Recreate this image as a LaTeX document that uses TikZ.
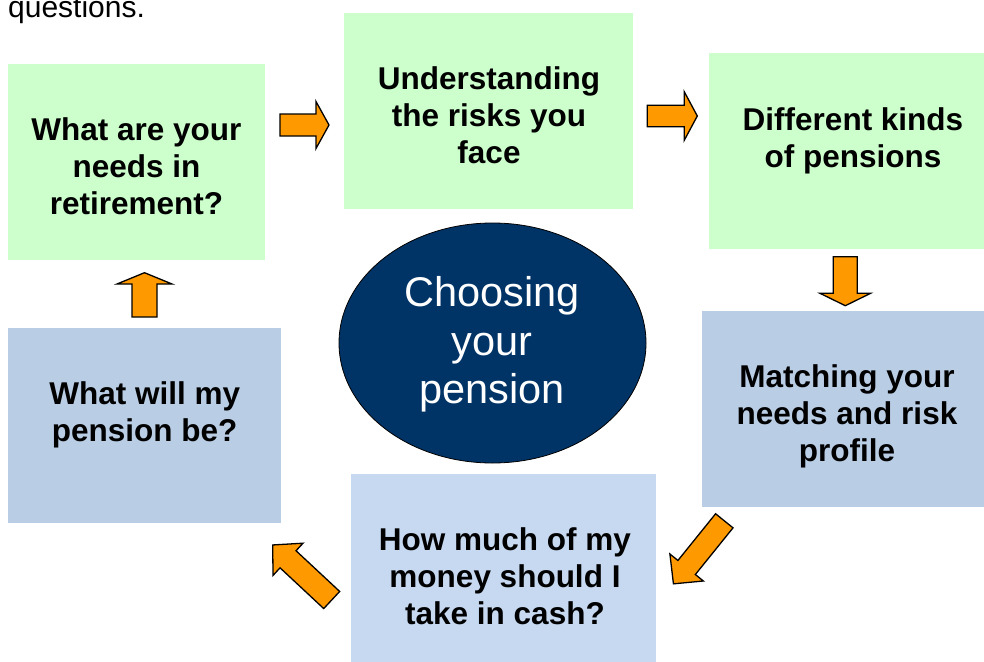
\documentclass[tikz,border=0pt]{standalone}
\usepackage{fontspec}
\setmainfont{Liberation Sans}
\usetikzlibrary{shapes.geometric}
\definecolor{boxgreen}{HTML}{CCFFCC}
\definecolor{boxblue}{HTML}{B9CDE5}
\definecolor{boxpale}{HTML}{C6D9F1}
\definecolor{navy}{HTML}{003366}
\definecolor{arroworange}{HTML}{FF9900}
\begin{document}
\begin{tikzpicture}[x=1pt,y=1pt,line join=miter]
	\tikzset{stage/.style={rectangle,inner sep=0pt,draw=none},
		stage text/.style={align=center,inner sep=0pt,font=\bfseries\fontsize{31.5}{37}\selectfont},
		fat arrow/.style={fill=arroworange,draw=black,line width=1.3pt}}
	\useasboundingbox (0,0) rectangle (984,-661);
	\node[anchor=base west,inner sep=0pt,font=\fontsize{30}{34}\selectfont] (intro) at (8,-17.5) {questions.};
	% the six steps
	\node[stage,fill=boxgreen,minimum width=257,minimum height=196] (needs) at (136.5,-162) {};
	\node[stage,fill=boxgreen,minimum width=289,minimum height=196] (risks) at (488.5,-111) {};
	\node[stage,fill=boxgreen,minimum width=275,minimum height=196] (kinds) at (846.5,-151) {};
	\node[stage,fill=boxblue,minimum width=282,minimum height=196] (matching) at (843,-409) {};
	\node[stage,fill=boxpale,minimum width=305,minimum height=188] (cash) at (503.5,-568) {};
	\node[stage,fill=boxblue,minimum width=273,minimum height=195] (amount) at (144.5,-425.5) {};
	\node[stage text] (needstext) at (136.4,-166.5) {What are your\\needs in\\retirement?};
	\node[stage text] (riskstext) at (489,-115.2) {Understanding\\the risks you\\face};
	\node[stage text] (kindstext) at (853,-140.5) {Different kinds\\of pensions};
	\node[stage text] (matchingtext) at (847,-416.5) {Matching your\\needs and risk\\profile};
	\node[stage text] (cashtext) at (505,-576.5) {How much of my\\money should I\\take in cash?};
	\node[stage text] (amounttext) at (144.7,-415) {What will my\\pension be?};
	% centre
	\node[ellipse,draw=black,line width=0.8pt,fill=navy,minimum width=307,minimum height=240,inner sep=0pt] (choosing) at (492.5,-343) {};
	\node[align=center,inner sep=0pt,text=white,font=\fontsize{41.5}{48.5}\selectfont] (choosingtext) at (492,-344.5) {Choosing\\your\\pension};
	% block arrows: tail x/y, angle, length, head length, head and shaft half widths
	\foreach \x/\y/\a/\l/\h/\w/\s in {280/-125/0/49/13/23.5/11, 647.3/-116/0/50/13/24.2/10.8,
		845.3/-256.7/-90/49/12.4/25.3/12, 724.3/-520.8/-128.9/81/21/21.5/11.2,
		331.7/-600/137/80.7/21/22/11.7, 144.5/-317/90/44.3/11.3/27.5/12.5}{
		\begin{scope}[shift={(\x,\y)},rotate=\a]
			\draw[fat arrow] (0,-\s)--(\l-\h,-\s)--(\l-\h,-\w)--(\l,0)--(\l-\h,\w)--(\l-\h,\s)--(0,\s)--cycle;
		\end{scope}
	}
\end{tikzpicture}
\end{document}
